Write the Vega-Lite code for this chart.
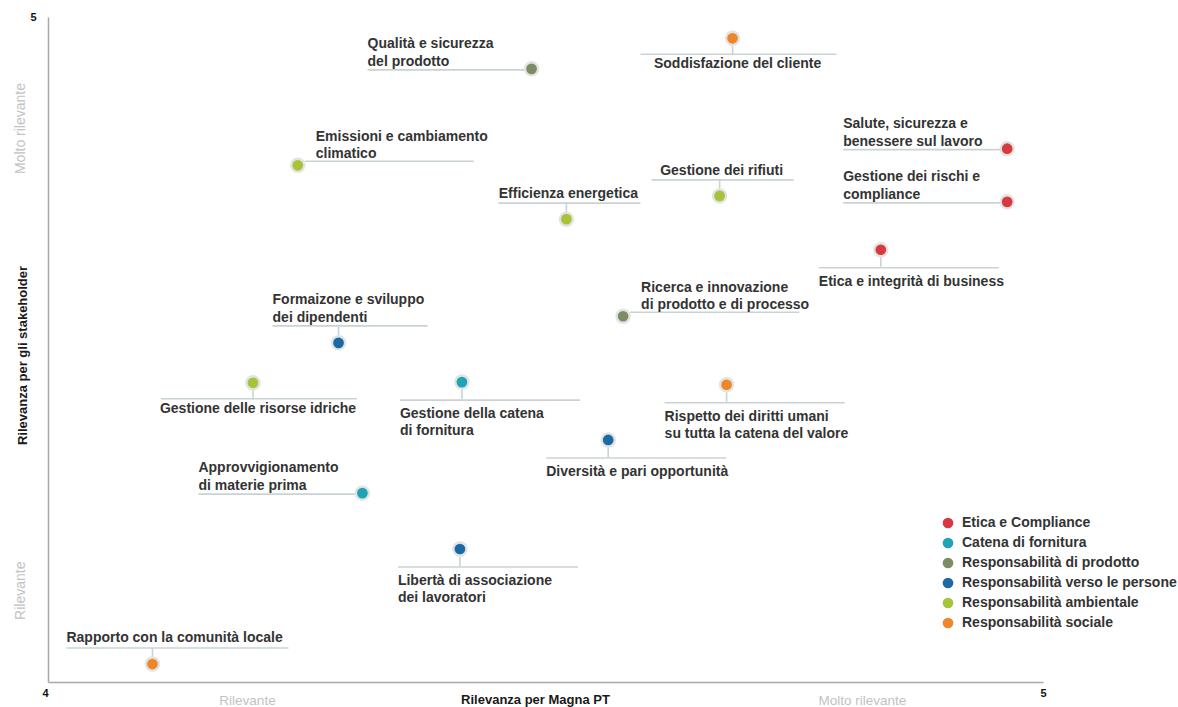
{
  "$schema": "https://vega.github.io/schema/vega-lite/v6.json",
  "width": 995,
  "height": 665,
  "autosize": {"type": "none"},
  "padding": {"left": 48, "top": 17, "right": 135, "bottom": 25},
  "background": "white",
  "config": {"view": {"stroke": null}, "font": "Liberation Sans"},
  "data": {"values": [
    {"name": "Qualità e sicurezza\ndel prodotto", "category": "Responsabilità di prodotto", "x": 4.486, "y": 4.922},
    {"name": "Soddisfazione del cliente", "category": "Responsabilità sociale", "x": 4.688, "y": 4.968},
    {"name": "Salute, sicurezza e\nbenessere sul lavoro", "category": "Etica e Compliance", "x": 4.964, "y": 4.802},
    {"name": "Gestione dei rischi e\ncompliance", "category": "Etica e Compliance", "x": 4.964, "y": 4.722},
    {"name": "Etica e integrità di business", "category": "Etica e Compliance", "x": 4.837, "y": 4.650},
    {"name": "Emissioni e cambiamento\nclimatico", "category": "Responsabilità ambientale", "x": 4.251, "y": 4.777},
    {"name": "Gestione dei rifiuti", "category": "Responsabilità ambientale", "x": 4.675, "y": 4.731},
    {"name": "Efficienza energetica", "category": "Responsabilità ambientale", "x": 4.521, "y": 4.696},
    {"name": "Formaizone e sviluppo\ndei dipendenti", "category": "Responsabilità verso le persone", "x": 4.292, "y": 4.510},
    {"name": "Ricerca e innovazione\ndi prodotto e di processo", "category": "Responsabilità di prodotto", "x": 4.578, "y": 4.550},
    {"name": "Gestione delle risorse idriche", "category": "Responsabilità ambientale", "x": 4.206, "y": 4.450},
    {"name": "Gestione della catena\ndi fornitura", "category": "Catena di fornitura", "x": 4.416, "y": 4.451},
    {"name": "Rispetto dei diritti umani\nsu tutta la catena del valore", "category": "Responsabilità sociale", "x": 4.682, "y": 4.447},
    {"name": "Diversità e pari opportunità", "category": "Responsabilità verso le persone", "x": 4.563, "y": 4.364},
    {"name": "Approvvigionamento\ndi materie prima", "category": "Catena di fornitura", "x": 4.316, "y": 4.284},
    {"name": "Libertà di associazione\ndei lavoratori", "category": "Responsabilità verso le persone", "x": 4.414, "y": 4.200},
    {"name": "Rapporto con la comunità locale", "category": "Responsabilità sociale", "x": 4.105, "y": 4.027}
  ]},
  "encoding": {
    "x": {
      "field": "x", "type": "quantitative",
      "scale": {"domain": [4, 5], "zero": false, "nice": false},
      "axis": {
        "values": [4, 4.2, 4.818, 5],
        "labelExpr": "datum.value == 4 ? '4' : datum.value == 5 ? '5' : datum.value < 4.5 ? 'Rilevante' : 'Molto rilevante'",
        "ticks": false, "grid": false,
        "domainColor": "#a9a9a9", "domainWidth": 1.5,
        "labelFlush": false, "labelOverlap": false,
        "labelPadding": 11,
        "labelColor": {"condition": {"test": "datum.value == 4 || datum.value == 5", "value": "#111111"}, "value": "#c2c2c2"},
        "labelFontWeight": {"condition": {"test": "datum.value == 4 || datum.value == 5", "value": "bold"}, "value": "normal"},
        "labelBaseline": {"condition": {"test": "datum.value == 4 || datum.value == 5", "value": "middle"}, "value": "top"},
        "labelAlign": {"condition": {"test": "datum.value == 4", "value": "right"}, "value": "center"},
        "labelFontSize": {"condition": {"test": "datum.value == 4 || datum.value == 5", "value": 11}, "value": 13.5},
        "title": "Rilevanza per Magna PT",
        "titleFontSize": 13, "titleFontWeight": "bold", "titleColor": "#1a1a1a",
        "titleX": 487, "titleY": 11, "titleBaseline": "top", "titleAlign": "center"
      }
    },
    "y": {"field": "y", "type": "quantitative", "scale": {"domain": [4, 5], "zero": false, "nice": false}, "axis": null}
  },
  "resolve": {"axis": {"y": "independent"}},
  "layer": [
    {
      "transform": [{"filter": {"field": "name", "oneOf": ["Qualità e sicurezza\ndel prodotto", "Salute, sicurezza e\nbenessere sul lavoro", "Gestione dei rischi e\ncompliance", "Approvvigionamento\ndi materie prima"]}}],
      "mark": {"type": "rule", "color": "#c9d3d5", "strokeWidth": 1.6, "xOffset": -164, "x2Offset": -7, "yOffset": 1},
      "encoding": {"x2": {"field": "x"}}
    },
    {
      "transform": [{"filter": {"field": "name", "oneOf": ["Etica e integrità di business", "Gestione della catena\ndi fornitura", "Rispetto dei diritti umani\nsu tutta la catena del valore", "Diversità e pari opportunità", "Libertà di associazione\ndei lavoratori"]}}],
      "mark": {"type": "rule", "color": "#c9d3d5", "strokeWidth": 1.6, "xOffset": -62, "x2Offset": 118, "yOffset": 18},
      "encoding": {"x2": {"field": "x"}}
    },
    {
      "transform": [{"filter": {"field": "name", "oneOf": ["Soddisfazione del cliente", "Gestione delle risorse idriche"]}}],
      "mark": {"type": "rule", "color": "#c9d3d5", "strokeWidth": 1.6, "xOffset": -92, "x2Offset": 104, "yOffset": 16},
      "encoding": {"x2": {"field": "x"}}
    },
    {
      "transform": [{"filter": {"field": "name", "oneOf": ["Emissioni e cambiamento\nclimatico", "Ricerca e innovazione\ndi prodotto e di processo"]}}],
      "mark": {"type": "rule", "color": "#c9d3d5", "strokeWidth": 1.6, "xOffset": 7, "x2Offset": 176, "yOffset": -4},
      "encoding": {"x2": {"field": "x"}}
    },
    {
      "transform": [{"filter": {"field": "name", "oneOf": ["Gestione dei rifiuti", "Efficienza energetica"]}}],
      "mark": {"type": "rule", "color": "#c9d3d5", "strokeWidth": 1.6, "xOffset": -68, "x2Offset": 74, "yOffset": -16},
      "encoding": {"x2": {"field": "x"}}
    },
    {
      "transform": [{"filter": {"field": "name", "oneOf": ["Formaizone e sviluppo\ndei dipendenti"]}}],
      "mark": {"type": "rule", "color": "#c9d3d5", "strokeWidth": 1.6, "xOffset": -66, "x2Offset": 89, "yOffset": -17},
      "encoding": {"x2": {"field": "x"}}
    },
    {
      "transform": [{"filter": {"field": "name", "oneOf": ["Rapporto con la comunità locale"]}}],
      "mark": {"type": "rule", "color": "#c9d3d5", "strokeWidth": 1.6, "xOffset": -86, "x2Offset": 136, "yOffset": -16},
      "encoding": {"x2": {"field": "x"}}
    },
    {
      "transform": [{"filter": {"field": "name", "oneOf": ["Etica e integrità di business", "Gestione della catena\ndi fornitura", "Rispetto dei diritti umani\nsu tutta la catena del valore", "Diversità e pari opportunità", "Libertà di associazione\ndei lavoratori", "Soddisfazione del cliente", "Gestione delle risorse idriche"]}}],
      "mark": {"type": "rule", "color": "#c9d3d5", "strokeWidth": 1.6, "yOffset": 7, "y2Offset": 17},
      "encoding": {"y2": {"field": "y"}}
    },
    {
      "transform": [{"filter": {"field": "name", "oneOf": ["Gestione dei rifiuti", "Efficienza energetica", "Formaizone e sviluppo\ndei dipendenti", "Rapporto con la comunità locale"]}}],
      "mark": {"type": "rule", "color": "#c9d3d5", "strokeWidth": 1.6, "yOffset": -7, "y2Offset": -16},
      "encoding": {"y2": {"field": "y"}}
    },
    {
      "mark": {"type": "circle", "size": 240, "color": "#e2e4e2", "opacity": 1},
      "encoding": {}
    },
    {
      "mark": {"type": "circle", "size": 115, "opacity": 1},
      "encoding": {
        "y": {
          "field": "y", "type": "quantitative",
          "scale": {"domain": [4, 5], "zero": false, "nice": false},
          "axis": {
            "orient": "left",
            "values": [4.138, 4.833],
            "labelExpr": "datum.value > 4.5 ? 'Molto rilevante' : 'Rilevante'",
            "labelAngle": 270,
            "labelColor": "#c2c2c2", "labelFontSize": 14,
            "labelPadding": 21, "labelFlush": false, "labelOverlap": false,
            "ticks": false, "grid": false,
            "domainColor": "#a9a9a9", "domainWidth": 1.5,
            "title": "Rilevanza per gli stakeholder",
            "titleFontSize": 13, "titleFontWeight": "bold", "titleColor": "#1a1a1a",
            "titleAngle": 270, "titleX": -26, "titleY": 338,
            "titleBaseline": "middle", "titleAlign": "center"
          }
        },
        "color": {
          "field": "category", "type": "nominal",
          "scale": {
            "domain": ["Etica e Compliance", "Catena di fornitura", "Responsabilità di prodotto", "Responsabilità verso le persone", "Responsabilità ambientale", "Responsabilità sociale"],
            "range": ["#d63a40", "#1fa3b6", "#7e8c66", "#1c6aa3", "#a6c33a", "#f0862a"]
          },
          "legend": {
            "title": null, "orient": "none", "legendX": 893, "legendY": 499,
            "symbolType": "circle", "symbolSize": 115, "padding": 0,
            "labelFontSize": 14, "labelFontWeight": "bold", "labelColor": "#333333",
            "rowPadding": 6, "labelOffset": 7, "labelLimit": 400
          }
        }
      }
    },
    {
      "transform": [{"filter": {"field": "name", "oneOf": ["Qualità e sicurezza\ndel prodotto", "Salute, sicurezza e\nbenessere sul lavoro", "Gestione dei rischi e\ncompliance", "Approvvigionamento\ndi materie prima"]}}],
      "mark": {"type": "text", "align": "left", "baseline": "bottom", "dx": -164, "dy": -18, "lineBreak": "\n", "lineHeight": 18, "fontSize": 14, "fontWeight": "bold", "color": "#333333"},
      "encoding": {
        "text": {"field": "name"},
        "y": {
          "field": "y", "type": "quantitative",
          "scale": {"domain": [4, 5], "zero": false, "nice": false},
          "axis": {
            "orient": "left", "values": [5], "format": "d",
            "labelAngle": 0, "labelFontWeight": "bold", "labelColor": "#111111", "labelFontSize": 11,
            "labelPadding": 12, "labelBaseline": "middle", "labelFlush": false,
            "domain": false, "ticks": false, "grid": false, "title": null
          }
        }
      }
    },
    {
      "transform": [{"filter": {"field": "name", "oneOf": ["Etica e integrità di business", "Gestione della catena\ndi fornitura", "Rispetto dei diritti umani\nsu tutta la catena del valore", "Diversità e pari opportunità", "Libertà di associazione\ndei lavoratori"]}}],
      "mark": {"type": "text", "align": "left", "baseline": "top", "dx": -62, "dy": 25, "lineBreak": "\n", "lineHeight": 17, "fontSize": 14, "fontWeight": "bold", "color": "#333333"},
      "encoding": {"text": {"field": "name"}}
    },
    {
      "transform": [{"filter": {"field": "name", "oneOf": ["Soddisfazione del cliente", "Gestione delle risorse idriche"]}}],
      "mark": {"type": "text", "align": "center", "baseline": "top", "dx": 5, "dy": 19, "lineBreak": "\n", "lineHeight": 17, "fontSize": 14, "fontWeight": "bold", "color": "#333333"},
      "encoding": {"text": {"field": "name"}}
    },
    {
      "transform": [{"filter": {"field": "name", "oneOf": ["Emissioni e cambiamento\nclimatico", "Ricerca e innovazione\ndi prodotto e di processo"]}}],
      "mark": {"type": "text", "align": "left", "baseline": "bottom", "dx": 18, "dy": -21, "lineBreak": "\n", "lineHeight": 17, "fontSize": 14, "fontWeight": "bold", "color": "#333333"},
      "encoding": {"text": {"field": "name"}}
    },
    {
      "transform": [{"filter": {"field": "name", "oneOf": ["Gestione dei rifiuti", "Efficienza energetica"]}}],
      "mark": {"type": "text", "align": "center", "baseline": "bottom", "dx": 2, "dy": -18, "fontSize": 14, "fontWeight": "bold", "color": "#333333"},
      "encoding": {"text": {"field": "name"}}
    },
    {
      "transform": [{"filter": {"field": "name", "oneOf": ["Formaizone e sviluppo\ndei dipendenti"]}}],
      "mark": {"type": "text", "align": "left", "baseline": "bottom", "dx": -66, "dy": -36, "lineBreak": "\n", "lineHeight": 18, "fontSize": 14, "fontWeight": "bold", "color": "#333333"},
      "encoding": {"text": {"field": "name"}}
    },
    {
      "transform": [{"filter": {"field": "name", "oneOf": ["Rapporto con la comunità locale"]}}],
      "mark": {"type": "text", "align": "left", "baseline": "bottom", "dx": -86, "dy": -19, "fontSize": 14, "fontWeight": "bold", "color": "#333333"},
      "encoding": {"text": {"field": "name"}}
    }
  ]
}
